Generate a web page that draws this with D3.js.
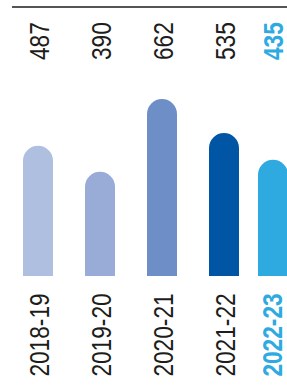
<!DOCTYPE html>
<html>
<head>
<meta charset="utf-8">
<script src="https://cdn.jsdelivr.net/npm/d3@7"></script>
<style>
  body { margin: 0; background: #fff; }
  text { font-family: "Liberation Sans", Arial, sans-serif; }
</style>
</head>
<body>
<script>
// data
let years = ['2018-19', '2019-20', '2020-21', '2021-22', '2022-23']
let values = [487, 390, 662, 535, 435]
let colors = ['#aebfe0', '#99acd7', '#6e8ec8', '#0055a5', '#2eaae1']

let width = 287, height = 389
let barW = 30, r = barW / 2
let base = 276

let svg = d3.select('body').append('svg')
    .attr('width', width)
    .attr('height', height)

// x positions of the bar centres (last bar sits closer)
let xScale = d3.scaleOrdinal()
    .domain(years)
    .range([38, 100, 162, 224, 273])

let yScale = d3.scaleLinear()
    .domain([0, 700])
    .range([base, base - 700 * 0.2672])

// top rule
svg.append('line')
    .attr('x1', 12).attr('x2', width)
    .attr('y1', 7).attr('y2', 7)
    .attr('stroke', '#1d1d1b')
    .attr('stroke-width', 1.5)

// bars with rounded top
function barPath(cx, top) {
    let x0 = cx - r, x1 = cx + r
    return 'M' + x0 + ',' + base +
        'L' + x0 + ',' + (top + r) +
        'A' + r + ',' + r + ' 0 0 1 ' + x1 + ',' + (top + r) +
        'L' + x1 + ',' + base + 'Z'
}

svg.selectAll('.bar')
    .data(values)
    .enter()
    .append('path')
        .attr('class', 'bar')
        .attr('d', function(d, i) { return barPath(xScale(years[i]), yScale(d)) })
        .attr('fill', function(d, i) { return colors[i] })

let last = years.length - 1

// baseline offset of the rotated labels from the bar centre
function off(i) { return i === last ? 9.5 : 11 }

// value labels
svg.selectAll('.val')
    .data(values)
    .enter()
    .append('text')
        .attr('class', 'val')
        .attr('transform', function(d, i) {
            return 'translate(' + (xScale(years[i]) + off(i)) + ',60) rotate(-90) scale(0.84,1)'
        })
        .attr('font-size', 27)
        .attr('font-weight', function(d, i) { return i === last ? 'bold' : 'normal' })
        .attr('fill', function(d, i) { return i === last ? '#2eaae1' : '#1d1d1b' })
        .text(function(d) { return d })

// year labels
svg.selectAll('.year')
    .data(years)
    .enter()
    .append('text')
        .attr('class', 'year')
        .attr('transform', function(d, i) {
            return 'translate(' + (xScale(d) + off(i) - (i === last ? 0.5 : 0)) + ',335) rotate(-90) scale(0.84,1)'
        })
        .attr('text-anchor', 'middle')
        .attr('font-size', 27)
        .attr('font-weight', function(d, i) { return i === last ? 'bold' : 'normal' })
        .attr('fill', function(d, i) { return i === last ? '#2eaae1' : '#1d1d1b' })
        .text(function(d) { return d })
</script>
</body>
</html>
